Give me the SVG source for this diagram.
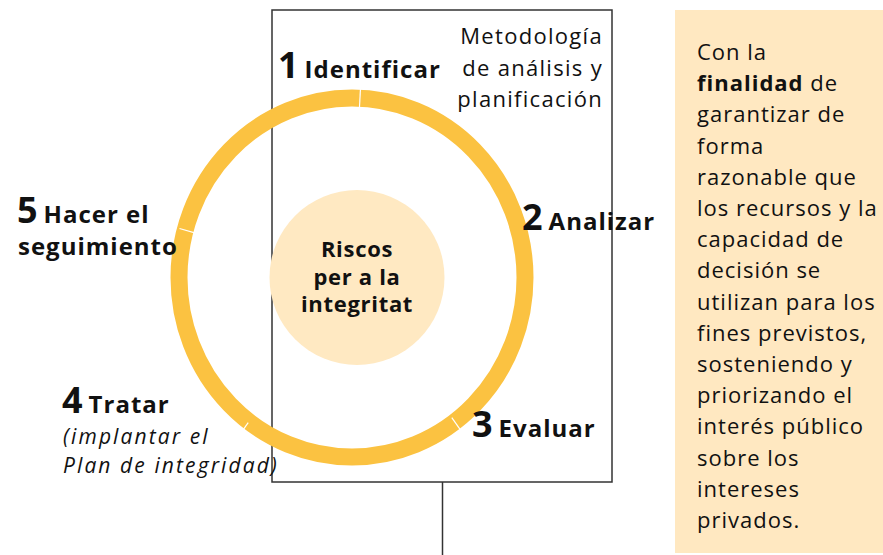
<svg xmlns="http://www.w3.org/2000/svg" width="883" height="555" viewBox="0 0 883 555">
<style>
text{font-family:"Open Sans","Noto Sans",sans-serif;fill:#111}
.num{font-size:36px;font-weight:700;letter-spacing:0}
.lbl{font-size:24px;font-weight:700;letter-spacing:1px}
.reg{font-size:22px;letter-spacing:1.3px}
.pan{font-size:22px;letter-spacing:1px}
.it{font-size:21px;font-style:italic;letter-spacing:2.1px}
.ctr{font-size:22px;font-weight:700;letter-spacing:0.7px;text-anchor:middle}
.sep{stroke:#fff;stroke-width:1.2}
</style>
<rect width="883" height="555" fill="#fff"/>
<g id="panel">
<rect x="675" y="10" width="210" height="543" fill="#FFE8C1"/>
<text class="pan" x="697" y="60">Con la</text>
<text class="pan" x="697" y="91.2"><tspan font-weight="700">finalidad</tspan> de</text>
<text class="pan" x="697" y="122.4">garantizar de</text>
<text class="pan" x="697" y="153.6">forma</text>
<text class="pan" x="697" y="184.8">razonable que</text>
<text class="pan" x="697" y="216">los recursos y la</text>
<text class="pan" x="697" y="247.2">capacidad de</text>
<text class="pan" x="697" y="278.4">decisión se</text>
<text class="pan" x="697" y="309.6">utilizan para los</text>
<text class="pan" x="697" y="340.8">fines previstos,</text>
<text class="pan" x="697" y="372">sosteniendo y</text>
<text class="pan" x="697" y="403.2">priorizando el</text>
<text class="pan" x="697" y="434.4">interés público</text>
<text class="pan" x="697" y="465.6">sobre los</text>
<text class="pan" x="697" y="496.8">intereses</text>
<text class="pan" x="697" y="528">privados.</text>
</g>
<g id="frame">
<rect x="272" y="10" width="340" height="472" fill="none" stroke="#333" stroke-width="1.5"/>
</g>
<g id="connectors">
<line x1="442.5" y1="482" x2="442.5" y2="555" stroke="#333" stroke-width="1.5"/>
</g>
<g id="cycle">
<ellipse cx="352" cy="277.5" rx="173" ry="179.5" fill="none" stroke="#FBC241" stroke-width="17"/>
<line class="sep" x1="359.5" y1="107" x2="360.5" y2="88"/>
<line class="sep" x1="179.5" y1="228.5" x2="196.5" y2="233.3"/>
<line class="sep" x1="237.8" y1="437.3" x2="248.2" y2="422.7"/>
<line class="sep" x1="451.8" y1="417.7" x2="462.2" y2="432.3"/>
</g>
<g id="center">
<circle cx="357" cy="277.5" r="87.5" fill="#FFE9C2"/>
<text class="ctr" x="357" y="257">Riscos</text>
<text class="ctr" x="357" y="284.5">per a la</text>
<text class="ctr" x="357" y="312">integritat</text>
</g>
<g id="method">
<text class="reg" x="603" y="44" text-anchor="end">Metodología</text>
<text class="reg" x="603" y="76" text-anchor="end">de análisis y</text>
<text class="reg" x="603" y="107" text-anchor="end">planificación</text>
</g>
<g id="step1">
<text x="278" y="78"><tspan class="num">1</tspan><tspan class="lbl" dx="6">Identificar</tspan></text>
</g>
<g id="step2">
<text x="522" y="230"><tspan class="num">2</tspan><tspan class="lbl" dx="6">Analizar</tspan></text>
</g>
<g id="step3">
<text x="472" y="437"><tspan class="num">3</tspan><tspan class="lbl" dx="6">Evaluar</tspan></text>
</g>
<g id="step4">
<text x="62" y="413"><tspan class="num">4</tspan><tspan class="lbl" dx="6">Tratar</tspan></text>
<text class="it" x="63" y="444">(implantar el</text>
<text class="it" x="63" y="473">Plan de integridad)</text>
</g>
<g id="step5">
<text x="17" y="223"><tspan class="num">5</tspan><tspan class="lbl" dx="6">Hacer el</tspan></text>
<text class="lbl" x="18" y="255">seguimiento</text>
</g>
</svg>
